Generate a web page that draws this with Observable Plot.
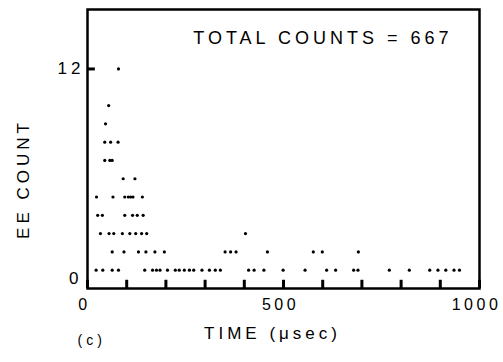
<!DOCTYPE html>
<html>
<head>
<meta charset="utf-8">
<script src="https://cdn.jsdelivr.net/npm/d3@7"></script>
<script src="https://cdn.jsdelivr.net/npm/@observablehq/plot@0.6"></script>
<style>
  html, body { margin: 0; padding: 0; background: #fff; }
  svg { display: block; }
  svg text { letter-spacing: 4px; }
  svg g[aria-label="x-axis tick label"] text { letter-spacing: 3.5px; }
</style>
</head>
<body>
<div id="chart"></div>
<script>
// Times (μsec) of points at each EE count level
const timesAt1 = [22, 39, 63, 79, 146, 166, 176, 185, 204, 224, 234, 247, 260, 271, 292, 311, 326, 339, 411, 425, 450, 499, 555, 610, 633, 679, 690, 770, 821, 873, 894, 914, 935, 949];
const timesAt2 = [63, 93, 130, 149, 172, 196, 351, 365, 379, 459, 576, 599, 691];
const timesAt3 = [33, 55, 67, 89, 108, 123, 138, 151, 403];
const timesAt4 = [26, 38, 95, 115, 127, 142];
const timesAt5 = [23, 65, 95, 104, 110, 116, 140];
const timesAt6 = [91, 121];
const timesAt7 = [44, 57, 63];
const timesAt8 = [44, 59, 78];
const timesAt9 = [46];
const timesAt10 = [54];
const timesAt12 = [79];

const xMinorTicks = [0, 100, 200, 300, 400, 500, 600, 700, 800, 900, 1000];
const xTickLabels = [0, 500, 1000];
const yTickLabels = [12];
const yZeroLabel = [0];
const titleText = ["TOTAL COUNTS = 667"];
const xLabel = ["TIME (μsec)"];
const yLabel = ["EE COUNT"];
const panelLabel = ["(c)"];

const levels = [
  [1, timesAt1], [2, timesAt2], [3, timesAt3], [4, timesAt4], [5, timesAt5],
  [6, timesAt6], [7, timesAt7], [8, timesAt8], [9, timesAt9], [10, timesAt10], [12, timesAt12]
];
const points = levels.flatMap(([c, ts]) => ts.map(t => ({time: t, count: c})));

const font = "'Liberation Sans', 'DejaVu Sans', sans-serif";

const chart = Plot.plot({
  width: 503,
  height: 362,
  marginLeft: 87,
  marginRight: 24,
  marginTop: 9,
  marginBottom: 74,
  style: {fontFamily: font, fontSize: "17px", color: "#000", background: "#fff"},
  x: {domain: [0, 1000]},
  y: {domain: [0, 15.25]},
  marks: [
    Plot.frame({stroke: "#000", strokeWidth: 2.5}),
    Plot.ruleX(xMinorTicks, {x: d => d, y1: 0, y2: 0.45, stroke: "#000", strokeWidth: 3}),
    Plot.ruleY(yTickLabels, {y: d => d, x1: 0, x2: 20, stroke: "#000", strokeWidth: 3}),
    Plot.axisX(xTickLabels, {tickSize: 0, tickPadding: 10, dx: -3, fontSize: 16, tickFormat: d => String(d), label: null}),
    Plot.axisY(yTickLabels, {tickSize: 0, tickPadding: 3, label: null}),
    Plot.axisY(yZeroLabel, {tickSize: 0, tickPadding: 5, dy: -10, label: null}),
    Plot.dot(points, {x: "time", y: "count", r: 1.6, fill: "#000", stroke: null}),
    Plot.text(titleText, {frameAnchor: "top-right", dx: -27, dy: 22, textAnchor: "end", fontSize: 18}),
    Plot.text(xLabel, {frameAnchor: "bottom", dx: -11, dy: 50, fontSize: 17}),
    Plot.text(yLabel, {frameAnchor: "left", dx: -64, dy: 30, rotate: -90, textAnchor: "middle", fontSize: 17}),
    Plot.text(panelLabel, {frameAnchor: "bottom-left", dx: -10, dy: 56, fontSize: 14, textAnchor: "start"})
  ]
});
document.getElementById("chart").appendChild(chart);
</script>
</body>
</html>
